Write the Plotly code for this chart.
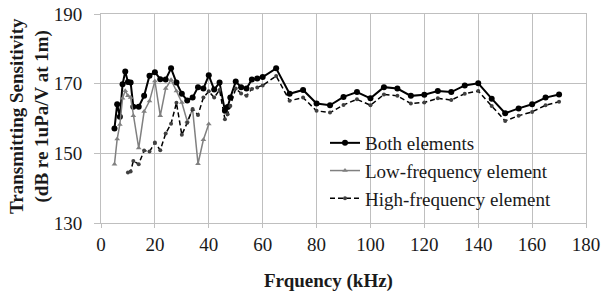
import plotly.graph_objects as go

# ---- data ----
freq_both = [5, 6, 7, 8, 9, 10, 11, 12, 14, 16, 18, 20, 22, 24, 26, 28, 30, 32, 34, 36, 38, 40,
             42, 44, 46, 47, 48, 50, 52, 54, 56, 58, 60, 65, 70, 75, 80, 85, 90, 95, 100, 105,
             110, 115, 120, 125, 130, 135, 140, 145, 150, 155, 160, 165, 170]
both = [157.1, 164.1, 160.5, 169.8, 173.5, 170.5, 170.3, 163.4, 163.4, 166.5, 172.3, 173.3,
        171.3, 171.2, 174.4, 170.3, 167.1, 165.2, 166.0, 169.0, 168.6, 172.4, 168.3, 170.3,
        162.2, 163.3, 166.0, 170.6, 169.0, 168.6, 171.2, 171.5, 171.9, 174.4, 167.1, 168.2,
        164.3, 163.8, 166.2, 167.6, 165.8, 169.0, 168.6, 166.5, 166.8, 167.9, 167.6, 169.5,
        170.1, 165.7, 161.5, 162.9, 164.1, 166.0, 166.9]

freq_low = [5, 6, 7, 8, 9, 10, 11, 12, 14, 16, 18, 20, 22, 24, 26, 28, 30, 32, 34, 36, 38, 40]
low = [146.9, 154.1, 158.3, 165.8, 168.0, 166.5, 166.0, 160.8, 151.5, 162.0, 165.0, 170.8,
       160.8, 168.6, 171.1, 167.9, 164.6, 159.2, 162.6, 147.0, 153.9, 158.4]

freq_high = [10, 11, 12, 14, 16, 18, 20, 22, 24, 26, 28, 30, 32, 34, 36, 38, 40, 42, 44, 46,
             47, 48, 50, 52, 54, 56, 58, 60, 65, 70, 75, 80, 85, 90, 95, 100, 105, 110, 115,
             120, 125, 130, 135, 140, 145, 150, 155, 160, 165, 170]
high = [144.5, 144.8, 147.8, 146.9, 150.8, 150.5, 153.1, 150.9, 155.7, 158.5, 164.5, 155.3,
        158.8, 162.7, 161.0, 166.0, 167.8, 166.0, 168.2, 159.8, 161.2, 163.6, 168.6, 167.2,
        166.5, 168.5, 168.9, 169.5, 172.2, 165.1, 166.0, 162.2, 161.7, 163.9, 165.5, 163.8,
        166.9, 166.5, 164.3, 164.6, 165.8, 165.3, 167.1, 167.9, 163.6, 159.3, 160.8, 161.9,
        163.8, 164.8]

x_ticks = [0, 20, 40, 60, 80, 100, 120, 140, 160, 180]
y_ticks = [130, 150, 170, 190]

FONT = "Liberation Serif"
GRID = "#bfbfbf"
TXT = "#1a1a1a"

fig = go.Figure()
fig.add_trace(go.Scatter(
    x=freq_both, y=both, name="Both elements", mode="lines+markers",
    line=dict(color="black", width=2),
    marker=dict(symbol="circle", size=6, color="black"),
    legendgroup="a"))
fig.add_trace(go.Scatter(
    x=freq_low, y=low, name="Low-frequency element", mode="lines+markers",
    line=dict(color="#808080", width=1.5),
    marker=dict(symbol="triangle-up", size=5, color="#808080"),
    legendgroup="b"))
fig.add_trace(go.Scatter(
    x=freq_high, y=high, name="High-frequency element", mode="lines+markers",
    line=dict(color="black", width=1.5, dash="5px,3px"),
    marker=dict(symbol="circle", size=4, color="#404040"),
    legendgroup="c"))

L, R, T, B = 101, 586, 14, 223
W, H = 601, 296


def px(xp):
    return (xp - L) / (R - L)


def py(yp):
    return (B - yp) / (B - T)


fig.update_layout(
    width=W, height=H,
    margin=dict(l=L, r=W - R, t=T, b=H - B, autoexpand=False),
    paper_bgcolor="white", plot_bgcolor="white",
    font=dict(family=FONT, size=19, color=TXT),
    showlegend=True,
    legend=dict(
        x=px(325), y=py(124), xanchor="left", yanchor="top",
        bgcolor="rgba(0,0,0,0)", borderwidth=0,
        font=dict(family=FONT, size=19, color=TXT),
        tracegroupgap=8, traceorder="normal",
    ),
    shapes=[dict(type="rect", xref="paper", yref="paper",
                 x0=px(312), x1=px(577), y0=py(215), y1=py(126),
                 fillcolor="white", line=dict(width=0), layer="between")],
)

fig.update_xaxes(
    range=[0, 180], tickvals=x_ticks, ticktext=[str(v) for v in x_ticks],
    showgrid=True, gridcolor=GRID, gridwidth=1,
    showline=True, linecolor=GRID, linewidth=1, mirror=True,
    ticks="outside", ticklen=4, tickcolor=GRID,
    tickfont=dict(family=FONT, size=19, color=TXT),
    zeroline=False, automargin=False,
)
fig.update_yaxes(
    range=[130, 190], tickvals=y_ticks, ticktext=[str(v) for v in y_ticks],
    showgrid=True, gridcolor=GRID, gridwidth=1,
    showline=True, linecolor=GRID, linewidth=1, mirror=True,
    ticks="outside", ticklen=6, tickcolor=GRID, ticklabelstandoff=8,
    tickfont=dict(family=FONT, size=19, color=TXT),
    zeroline=False, automargin=False,
)

fig.add_annotation(
    text="<b>Transmitting Sensitivity</b><br><b>(dB re 1uPa/V at 1m)</b>",
    xref="paper", yref="paper", x=px(29), y=py(116),
    xanchor="center", yanchor="middle", textangle=-90, showarrow=False,
    font=dict(family=FONT, size=19, color=TXT))
fig.add_annotation(
    text="<b>Frquency (kHz)</b>",
    xref="paper", yref="paper", x=px(328), y=py(281),
    xanchor="center", yanchor="middle", showarrow=False,
    font=dict(family=FONT, size=19, color=TXT))

fig.write_html("out.html", config={"displayModeBar": False},
               post_script="document.body.style.margin='0';")
